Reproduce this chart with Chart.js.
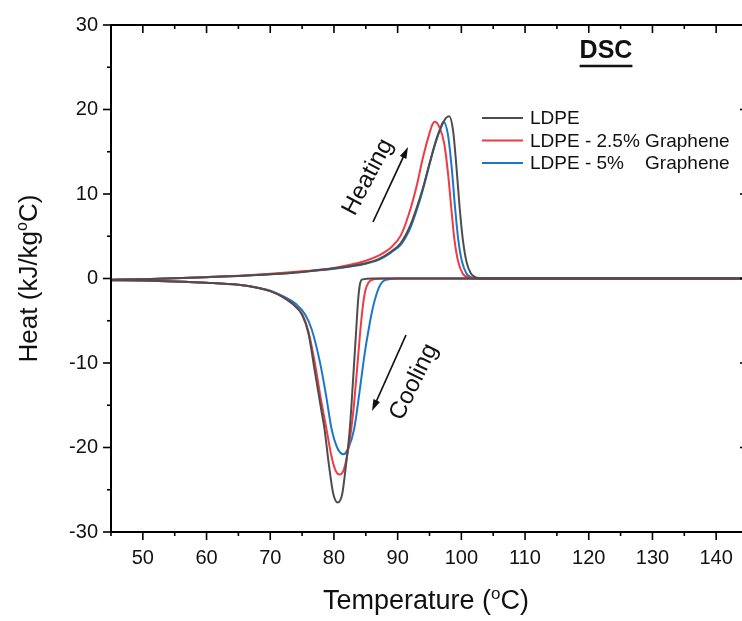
<!DOCTYPE html>
<html>
<head>
<meta charset="utf-8">
<title>DSC</title>
<script src="https://cdn.jsdelivr.net/npm/chart.js@4/dist/chart.umd.min.js"></script>
<style>
	html, body { margin: 0; padding: 0; background: #fff; overflow: hidden; }
	#wrap { width: 752px; height: 621px; }
</style>
</head>
<body>
<div id="wrap"><canvas id="dscChart" width="752" height="621"></canvas></div>
<script>
// temperature ticks / heat ticks
var xTickValues = [50, 60, 70, 80, 90, 100, 110, 120, 130, 140];
var yTickValues = [-30, -20, -10, 0, 10, 20, 30];

var sampleNames = ["LDPE", "LDPE - 2.5% Graphene", "LDPE - 5%    Graphene"];
var sampleColors = ["#4d4d4d", "#ee3b45", "#1c77c9"];

// heating runs (melting peak)
var ldpeHeatT = [45, 50, 55, 60, 65, 70, 75, 80, 85, 87, 89, 90.5, 92, 93, 94, 95, 96, 97, 97.6, 98.1, 98.7, 99.2, 99.7, 100.2, 100.8, 101.5, 102.4, 104, 145];
var ldpeHeatQ = [-0.15, -0.08, 0.02, 0.15, 0.3, 0.5, 0.78, 1.2, 1.8, 2.3, 3.2, 4.2, 6.3, 8.4, 10.8, 13.6, 16.2, 18.2, 19.0, 19.2, 17.5, 13.5, 8.7, 4.8, 2.0, 0.6, 0.1, 0, 0];

var g25HeatT = [45, 50, 55, 60, 65, 70, 75, 80, 85, 87, 89, 90.5, 92, 93, 94, 95, 95.5, 95.8, 96.5, 97.3, 97.9, 98.4, 98.9, 99.5, 100.2, 101.2, 103, 145];
var g25HeatQ = [-0.15, -0.08, 0.03, 0.17, 0.33, 0.55, 0.85, 1.25, 2.1, 2.7, 3.7, 5.1, 8.2, 11.0, 14.4, 17.2, 18.3, 18.55, 18.0, 16.0, 12.5, 8.5, 4.7, 2.0, 0.6, 0.1, 0, 0];

var g5HeatT = [45, 50, 55, 60, 65, 70, 75, 80, 85, 87, 89, 90.5, 92, 93, 94, 95, 96, 96.7, 97.2, 97.9, 98.5, 99.0, 99.5, 100.1, 100.8, 101.7, 103.5, 145];
var g5HeatQ = [-0.15, -0.08, 0.02, 0.15, 0.3, 0.5, 0.78, 1.15, 1.75, 2.2, 3.1, 4.0, 6.0, 8.1, 10.6, 13.5, 16.3, 17.8, 18.55, 17.0, 13.0, 8.5, 4.7, 2.0, 0.6, 0.1, 0, 0];

// cooling runs (crystallisation peak)
var ldpeCoolT = [45, 50, 55, 60, 65, 68, 70, 72, 73.5, 75, 76, 77, 78, 78.5, 79.2, 79.9, 80.6, 81.3, 81.9, 82.5, 83.0, 83.5, 83.8, 84.1, 84.5, 86, 145];
var ldpeCoolQ = [-0.2, -0.25, -0.35, -0.5, -0.75, -1.1, -1.5, -2.2, -3.0, -4.3, -6.5, -11, -15.5, -17.7, -22, -25.5, -26.5, -25.5, -22, -17.7, -12, -6, -2.5, -0.6, -0.1, 0, 0];

var g25CoolT = [45, 50, 55, 60, 65, 68, 70, 72, 73.5, 75, 76, 77, 78, 78.8, 79.6, 80.3, 80.9, 81.6, 82.4, 83.0, 83.6, 84.1, 84.5, 84.9, 85.4, 86.2, 88, 145];
var g25CoolQ = [-0.2, -0.25, -0.35, -0.5, -0.75, -1.1, -1.5, -2.2, -3.0, -4.2, -6.3, -10, -14.5, -17.7, -21, -22.8, -23.2, -22.5, -19.5, -16, -11, -6.5, -3.5, -1.5, -0.5, -0.1, 0, 0];

var g5CoolT = [45, 50, 55, 60, 65, 68, 70, 72, 74, 75.5, 76.5, 77.8, 78.8, 79.6, 80.5, 81.5, 82.3, 83.2, 84, 84.8, 85.5, 86.1, 86.7, 87.3, 88, 90, 145];
var g5CoolQ = [-0.2, -0.25, -0.35, -0.5, -0.75, -1.1, -1.45, -2.1, -3.0, -4.3, -6, -9.9, -14, -17.7, -20, -20.8, -20, -17.7, -13.5, -9, -5.8, -3.5, -1.8, -0.7, -0.2, 0, 0];

var axisFont = "'Liberation Sans', Arial, sans-serif";

function toPoints(temps, heats) {
	var points = [];
	for (var i = 0; i < temps.length; i++) {
		points.push({ x: temps[i], y: heats[i] });
	}
	return points;
}

function makeDataset(label, color, temps, heats) {
	return {
		label: label,
		data: toPoints(temps, heats),
		borderColor: color,
		borderWidth: 2,
		pointRadius: 0,
		fill: false,
		cubicInterpolationMode: "monotone"
	};
}

function strokeLine(ctx, x1, y1, x2, y2) {
	ctx.beginPath();
	ctx.moveTo(x1, y1);
	ctx.lineTo(x2, y2);
	ctx.stroke();
}

function drawArrow(ctx, x1, y1, x2, y2) {
	var ang = Math.atan2(y2 - y1, x2 - x1);
	var head = 12;
	ctx.lineWidth = 1.7;
	strokeLine(ctx, x1, y1, x2 - Math.cos(ang) * head * 0.8, y2 - Math.sin(ang) * head * 0.8);
	ctx.beginPath();
	ctx.moveTo(x2, y2);
	ctx.lineTo(x2 - head * Math.cos(ang - 0.3), y2 - head * Math.sin(ang - 0.3));
	ctx.lineTo(x2 - head * Math.cos(ang + 0.3), y2 - head * Math.sin(ang + 0.3));
	ctx.closePath();
	ctx.fill();
}

// text with a raised small "o" before the unit letter
function drawDegreeText(ctx, before, after, size, cx, cy) {
	ctx.font = size + "px " + axisFont;
	var wBefore = ctx.measureText(before).width;
	var wAfter = ctx.measureText(after).width;
	ctx.font = Math.round(size * 0.62) + "px " + axisFont;
	var wSup = ctx.measureText("o").width;
	var x = cx - (wBefore + wSup + wAfter) / 2;
	ctx.textAlign = "left";
	ctx.textBaseline = "middle";
	ctx.font = size + "px " + axisFont;
	ctx.fillText(before, x, cy);
	ctx.font = Math.round(size * 0.62) + "px " + axisFont;
	ctx.fillText("o", x + wBefore, cy - size * 0.3);
	ctx.font = size + "px " + axisFont;
	ctx.fillText(after, x + wBefore + wSup, cy);
}

var decorations = {
	id: "decorations",
	afterDraw: function (chart) {
		var ctx = chart.ctx;
		var area = chart.chartArea;
		var xs = chart.scales.x;
		var ys = chart.scales.y;
		ctx.save();
		ctx.strokeStyle = "#000";
		ctx.fillStyle = "#000";
		ctx.lineWidth = 2;
		ctx.strokeRect(area.left, area.top, area.right - area.left, area.bottom - area.top);

		// major + minor ticks: outward on left/bottom, inward on top/right
		ctx.lineWidth = 1.6;
		for (var t = 45; t <= 145; t += 5) {
			var px = xs.getPixelForValue(t);
			var len = t % 10 === 0 ? 8 : 4;
			strokeLine(ctx, px, area.bottom, px, area.bottom + len);
			strokeLine(ctx, px, area.top, px, area.top + len);
		}
		for (var q = -30; q <= 30; q += 5) {
			var py = ys.getPixelForValue(q);
			var ylen = q % 10 === 0 ? 8 : 4;
			strokeLine(ctx, area.left - ylen, py, area.left, py);
			strokeLine(ctx, area.right - ylen, py, area.right, py);
		}

		// axis titles
		ctx.fillStyle = "#111";
		drawDegreeText(ctx, "Temperature (", "C)", 27, 426, 602);
		ctx.save();
		ctx.translate(30, (area.top + area.bottom) / 2);
		ctx.rotate(-Math.PI / 2);
		drawDegreeText(ctx, "Heat (kJ/kg", "C)", 26, 0, 0);
		ctx.restore();

		// DSC title, bold and underlined
		ctx.font = "bold 25px " + axisFont;
		ctx.textAlign = "center";
		ctx.textBaseline = "middle";
		ctx.fillText("DSC", 606, 51);
		var tw = ctx.measureText("DSC").width;
		ctx.lineWidth = 2.4;
		ctx.strokeStyle = "#111";
		strokeLine(ctx, 606 - tw / 2, 66, 606 + tw / 2, 66);

		// legend
		ctx.font = "19px " + axisFont;
		ctx.textAlign = "left";
		for (var i = 0; i < sampleNames.length; i++) {
			var ly = 118 + i * 22.5;
			ctx.strokeStyle = sampleColors[i];
			ctx.lineWidth = 2;
			strokeLine(ctx, 482, ly, 523, ly);
			ctx.fillStyle = "#111";
			ctx.fillText(sampleNames[i], 530, ly + 1);
		}

		// heating / cooling labels with arrows
		ctx.fillStyle = "#111";
		ctx.strokeStyle = "#111";
		drawArrow(ctx, 373, 222, 408, 147);
		drawArrow(ctx, 406, 335, 372, 411);
		ctx.font = "24px " + axisFont;
		ctx.textAlign = "center";
		ctx.save();
		ctx.translate(368, 177);
		ctx.rotate(-62 * Math.PI / 180);
		ctx.fillText("Heating", 0, 0);
		ctx.restore();
		ctx.save();
		ctx.translate(414, 382);
		ctx.rotate(-64 * Math.PI / 180);
		ctx.fillText("Cooling", 0, 0);
		ctx.restore();

		ctx.restore();
	}
};

var datasets = [
	makeDataset(sampleNames[0], sampleColors[0], ldpeHeatT, ldpeHeatQ),
	makeDataset(sampleNames[0], sampleColors[0], ldpeCoolT, ldpeCoolQ),
	makeDataset(sampleNames[1], sampleColors[1], g25HeatT, g25HeatQ),
	makeDataset(sampleNames[1], sampleColors[1], g25CoolT, g25CoolQ),
	makeDataset(sampleNames[2], sampleColors[2], g5HeatT, g5HeatQ),
	makeDataset(sampleNames[2], sampleColors[2], g5CoolT, g5CoolQ)
];

var tickFont = { family: axisFont, size: 20 };

new Chart(document.getElementById("dscChart"), {
	type: "line",
	data: { datasets: datasets },
	plugins: [decorations],
	options: {
		responsive: false,
		animation: false,
		layout: { padding: { top: 18, right: 4, left: 0, bottom: 0 } },
		plugins: {
			legend: { display: false },
			tooltip: { enabled: false }
		},
		scales: {
			x: {
				type: "linear",
				min: 45,
				max: 145,
				grid: { display: false, drawTicks: false },
				border: { display: false },
				afterBuildTicks: function (scale) {
					scale.ticks = xTickValues.map(function (v) { return { value: v }; });
				},
				afterFit: function (scale) { scale.height = 89; },
				ticks: { font: tickFont, color: "#111", padding: 14, maxRotation: 0, autoSkip: false }
			},
			y: {
				type: "linear",
				min: -30,
				max: 30,
				grid: { display: false, drawTicks: false },
				border: { display: false },
				afterBuildTicks: function (scale) {
					scale.ticks = yTickValues.map(function (v) { return { value: v }; });
				},
				afterFit: function (scale) { scale.width = 111; },
				ticks: { font: tickFont, color: "#111", padding: 13 }
			}
		}
	}
});
</script>
</body>
</html>
